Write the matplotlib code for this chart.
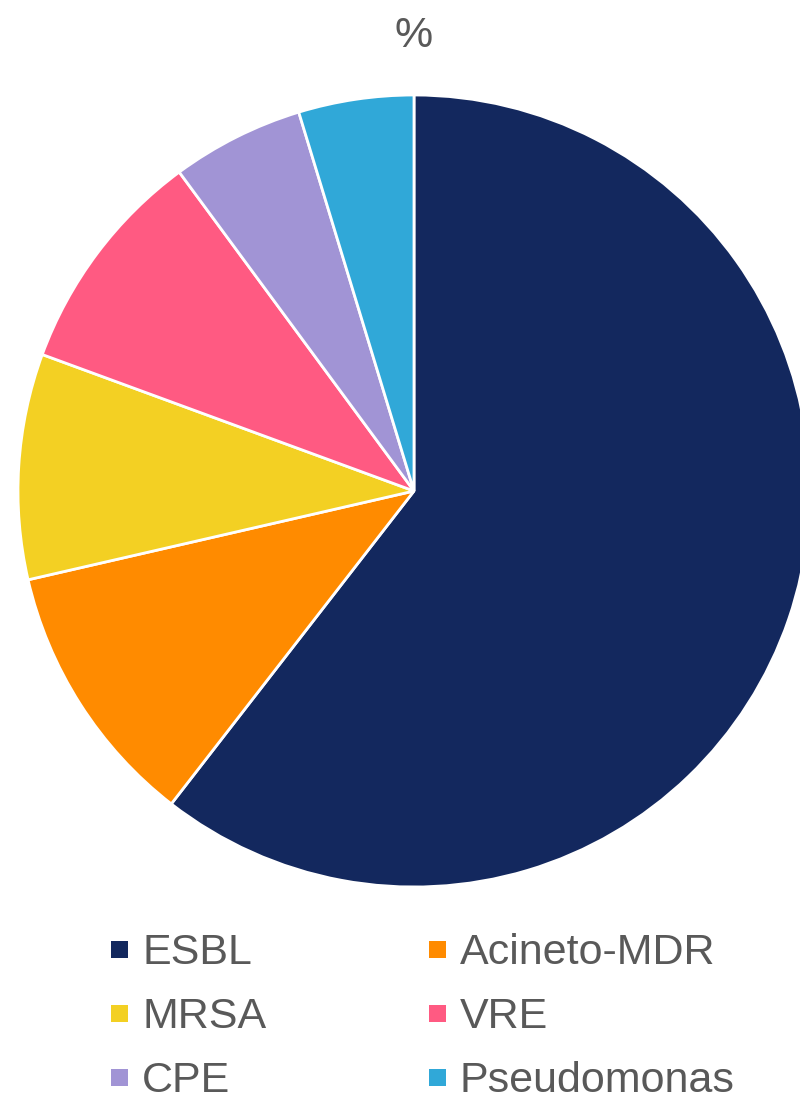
import matplotlib
matplotlib.use("Agg")
import matplotlib.pyplot as plt

labels = ["ESBL", "Acineto-MDR", "MRSA", "VRE", "CPE", "Pseudomonas"]
values = [60.5, 10.9, 9.2, 9.3, 5.4, 4.7]
colors = ["#13285E", "#FF8B00", "#F3D023", "#FF5A82", "#A194D5", "#30A8D8"]
title = "%"

plt.rcParams['font.family'] = ['Liberation Sans', 'DejaVu Sans']

W, H = 800, 1093
fig = plt.figure(figsize=(W / 100, H / 100), dpi=100)
ax = fig.add_axes([0, 0, 1, 1])

cx, cy, r = 414, H - 491, 396
ax.pie(values, colors=colors, startangle=90, counterclock=False,
       center=(cx, cy), radius=r, frame=True,
       wedgeprops=dict(edgecolor='white', linewidth=2.0))
ax.set_xlim(0, W)
ax.set_ylim(0, H)
ax.set_aspect('auto')
ax.axis('off')

fig.text(414 / W, 1 - 47 / H, title, ha='center', va='baseline',
         fontsize=31, color='#595959')

col_x = [111, 429]
baselines = [964, 1028, 1092]
for i, (lab, col) in enumerate(zip(labels, colors)):
    x = col_x[i % 2]
    b = baselines[i // 2]
    fig.patches.append(plt.Rectangle((x / W, 1 - (b - 6) / H), 17 / W, 17 / H,
                                     transform=fig.transFigure, facecolor=col,
                                     edgecolor='none'))
    fig.text((x + 31) / W, 1 - b / H, lab, ha='left', va='baseline',
             fontsize=31, color='#595959')

fig.savefig("out.png", dpi=100)
